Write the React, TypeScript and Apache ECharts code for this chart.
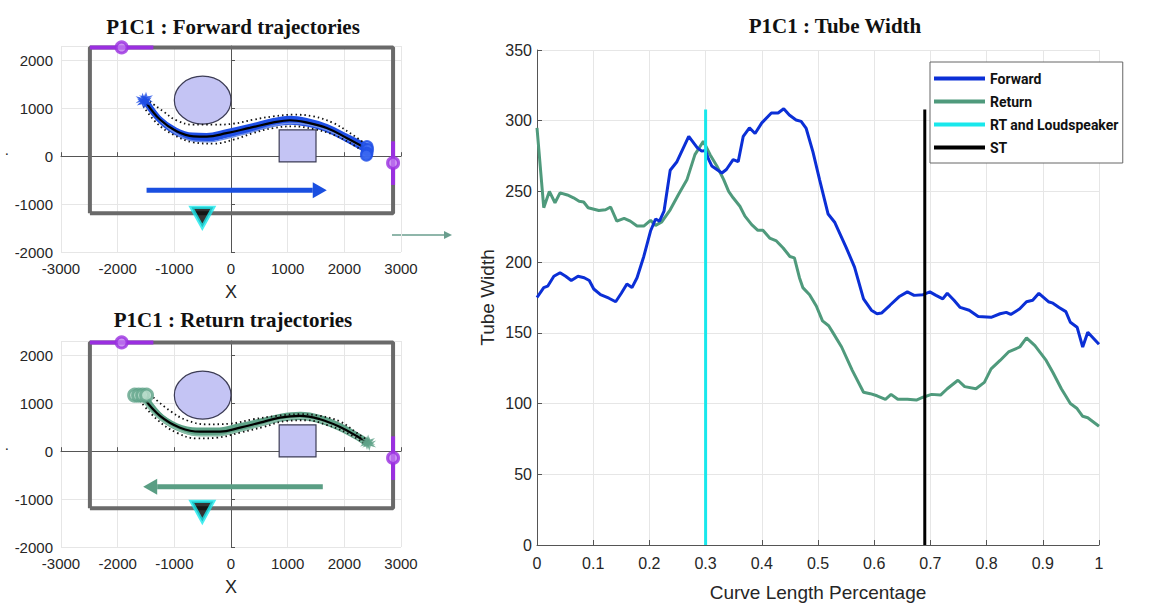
import React, { useEffect, useRef } from 'react';
import * as echarts from 'echarts';

// ---------- Right chart: tube width ----------
const tubeXTicks = [0, 0.1, 0.2, 0.3, 0.4, 0.5, 0.6, 0.7, 0.8, 0.9, 1];
const tubeYTicks = [0, 50, 100, 150, 200, 250, 300, 350];

const forwardWidth: number[][] = [
  [0, 175], [0.012, 182], [0.019, 183], [0.03, 190], [0.041, 192.5], [0.051, 190], [0.061, 187], [0.073, 190],
  [0.084, 189], [0.093, 187], [0.101, 181], [0.113, 177], [0.128, 174.5], [0.14, 172], [0.15, 178], [0.16, 184.5],
  [0.169, 182], [0.178, 189], [0.19, 204], [0.202, 222], [0.211, 230.5], [0.218, 229], [0.226, 236], [0.237, 265],
  [0.249, 271], [0.27, 289], [0.285, 281], [0.293, 278.5], [0.3, 279], [0.305, 273], [0.311, 268], [0.329, 263],
  [0.337, 265.5], [0.349, 272.5], [0.358, 271], [0.367, 289], [0.378, 295], [0.388, 291], [0.4, 298.5],
  [0.417, 305.5], [0.429, 305.5], [0.439, 308.5], [0.449, 304], [0.461, 300.5], [0.47, 299.5], [0.479, 294.5],
  [0.491, 278], [0.503, 258], [0.518, 234], [0.53, 228], [0.55, 210.5], [0.565, 196.5], [0.581, 174],
  [0.595, 166], [0.605, 163.5], [0.613, 164], [0.628, 169.5], [0.644, 175.5], [0.659, 179], [0.671, 176.5],
  [0.687, 177], [0.699, 179], [0.71, 176.5], [0.722, 174], [0.73, 178], [0.742, 173], [0.753, 168], [0.769, 166],
  [0.785, 161.5], [0.808, 161], [0.824, 163.5], [0.835, 164.5], [0.843, 163], [0.859, 167], [0.871, 172],
  [0.882, 173], [0.893, 178], [0.91, 172], [0.918, 171], [0.929, 168], [0.941, 165], [0.949, 157.5], [0.961, 154],
  [0.971, 140], [0.98, 150.5], [1, 142],
];

const returnWidth: number[][] = [
  [0, 295], [0.012, 238.5], [0.022, 250], [0.032, 242], [0.041, 249], [0.054, 247.5], [0.065, 245.5], [0.075, 243],
  [0.083, 242.5], [0.091, 238.5], [0.11, 236.5], [0.122, 237], [0.131, 239], [0.142, 229], [0.155, 231],
  [0.166, 229], [0.178, 225.5], [0.19, 225.5], [0.202, 229.5], [0.211, 226], [0.222, 228.5], [0.237, 237],
  [0.252, 248], [0.267, 258.5], [0.281, 276], [0.296, 285.5], [0.308, 276], [0.32, 268], [0.332, 258.5],
  [0.341, 250], [0.349, 245.5], [0.361, 239.5], [0.37, 232.5], [0.382, 226.5], [0.393, 222.5], [0.402, 222.5],
  [0.414, 217], [0.426, 215], [0.438, 210], [0.45, 204], [0.458, 203], [0.467, 189], [0.473, 182], [0.485, 177],
  [0.497, 169], [0.508, 158.5], [0.519, 155], [0.526, 150.5], [0.542, 140], [0.561, 123.5], [0.581, 108],
  [0.593, 107], [0.605, 105.5], [0.62, 103], [0.63, 106.5], [0.642, 103], [0.659, 103], [0.675, 102.5],
  [0.687, 104.5], [0.702, 106.5], [0.718, 106], [0.73, 110.5], [0.749, 116.5], [0.761, 112], [0.781, 110.5],
  [0.796, 115], [0.808, 124.5], [0.824, 130.5], [0.839, 136.5], [0.859, 140], [0.871, 146.5], [0.886, 141],
  [0.906, 130.5], [0.918, 122], [0.933, 110.5], [0.949, 100], [0.961, 96.5], [0.971, 91], [0.98, 90], [1, 84],
];

const rtLine: number[][] = [[0.3, 0], [0.3, 308]];
const stLine: number[][] = [[0.69, 0], [0.69, 308]];
const legendNames = ['Forward', 'Return', 'RT and Loudspeaker', 'ST'];

// ---------- Left charts: room layout ----------
const roomWalls: number[][] = [[-2490, -1190], [-2490, 2270], [2860, 2270], [2860, -1190], [-2490, -1190]];
const purpleTop: number[][] = [[-2490, 2270], [-1370, 2270]];
const purpleRight: number[][] = [[2860, 310], [2860, -600]];
const purpleDots: number[][] = [[-1930, 2270], [2860, -140]];
const obstacleCircle: number[][] = [[-500, 1170, 500]];
const obstacleSquare: number[][] = [[850, -120, 1500, 550]];
const speakerTop: number[][] = [[-506, -1277]];
const speakerBottom: number[][] = [[-506, -1257]];

// forward trajectories
const forwardMean: number[][] = [
  [-1490, 1110], [-1250, 760], [-960, 520], [-660, 415], [-430, 410], [-80, 480], [330, 590], [750, 705],
  [1040, 750], [1330, 705], [1690, 590], [2040, 380], [2370, 170],
];
const forwardUpper: number[][] = [
  [-1430, 1140], [-1195, 935], [-960, 748], [-665, 657], [-312, 657], [41, 678], [394, 762], [747, 831],
  [1100, 866], [1453, 831], [1806, 692], [2100, 483], [2394, 240],
];
const forwardLower: number[][] = [
  [-1547, 1040], [-1312, 692], [-1018, 449], [-665, 289], [-312, 261], [41, 344], [394, 483], [747, 588],
  [1100, 623], [1453, 567], [1806, 449], [2100, 275], [2335, 100],
];
const forwardTraj1: number[][] = [
  [-1530, 1180], [-1280, 790], [-980, 540], [-680, 430], [-430, 420], [-80, 500], [330, 610], [750, 735],
  [1040, 780], [1330, 735], [1690, 610], [2050, 400], [2400, 200],
];
const forwardTraj2: number[][] = [
  [-1470, 1100], [-1230, 730], [-940, 480], [-640, 375], [-420, 370], [-70, 445], [340, 560], [760, 680],
  [1050, 720], [1340, 680], [1700, 560], [2050, 350], [2400, 120],
];
const forwardTraj3: number[][] = [
  [-1450, 1050], [-1200, 680], [-900, 420], [-620, 310], [-400, 300], [-50, 380], [350, 500], [760, 640],
  [1050, 690], [1340, 660], [1700, 540], [2050, 340], [2420, 130],
];
const forwardStart: number[][] = [[-1560, 1180], [-1520, 1150], [-1500, 1200], [-1540, 1130]];
const forwardEnd: number[][] = [[2400, 200], [2410, 140], [2400, 60], [2390, 20]];
const forwardArrow: number[][] = [[-1490, 1690, -710]];

// return trajectories
const returnMean: number[][] = [
  [-1547, 1123], [-1253, 737], [-900, 491], [-547, 407], [-194, 407], [159, 491], [512, 596], [865, 702],
  [1218, 737], [1571, 667], [1924, 505], [2218, 316], [2394, 175],
];
const returnUpper: number[][] = [
  [-1370, 1123], [-1076, 842], [-782, 646], [-429, 561], [-18, 575], [394, 667], [806, 737], [1218, 772],
  [1571, 737], [1924, 618], [2218, 386], [2424, 211],
];
const returnLower: number[][] = [
  [-1606, 1053], [-1312, 667], [-959, 386], [-606, 267], [-253, 281], [159, 386], [571, 505], [982, 632],
  [1335, 646], [1688, 547], [2041, 386], [2335, 175],
];
const returnTraj1: number[][] = [
  [-1560, 1170], [-1300, 780], [-960, 520], [-600, 430], [-250, 430], [150, 520], [520, 620], [880, 720],
  [1220, 760], [1580, 690], [1930, 520], [2220, 330], [2420, 190],
];
const returnTraj2: number[][] = [
  [-1500, 1100], [-1220, 700], [-880, 460], [-540, 380], [-200, 385], [170, 470], [530, 580], [880, 680],
  [1220, 715], [1580, 640], [1930, 480], [2230, 290], [2400, 150],
];
const returnTraj3: number[][] = [
  [-1600, 1130], [-1330, 740], [-980, 470], [-620, 330], [-270, 320], [130, 410], [510, 530], [870, 650],
  [1210, 690], [1570, 620], [1920, 460], [2220, 270], [2410, 130],
];
const returnStart: number[][] = [[-1700, 1170], [-1630, 1170], [-1560, 1170], [-1490, 1170]];
const returnEnd: number[][] = [[2420, 200], [2440, 150], [2400, 170]];
const returnArrow: number[][] = [[1620, -1550, -740]];

const BLUE = '#0b2fd6';
const BLUE_T = '#1f4fe6';
const BLUE_LIGHT = '#6f8fe8';
const GREEN = '#4f9a7c';
const GREEN_T = '#5fa388';
const CYAN = '#19e8ec';
const PURPLE = '#9a2fe0';
const WALL = '#6a6a6a';
const AXIS = '#555555';
const TEXT = '#262626';
const GRIDC = '#e6e6e6';
const STAR = 'path://M0,-10L2,-3L9,-5L4,0L9,5L2,3L0,10L-2,3L-9,5L-4,0L-9,-5L-2,-3Z';

function leftAxes(gridIndex: number) {
  const x = {
    type: 'value', gridIndex, min: -3000, max: 3000, interval: 1000,
    name: 'X', nameLocation: 'middle', nameGap: 31,
    nameTextStyle: { fontFamily: 'Liberation Sans', fontSize: 18, color: TEXT },
    axisLine: { show: true, lineStyle: { color: AXIS, width: 1 } },
    axisTick: { show: true, inside: true, length: 4, lineStyle: { color: AXIS } },
    axisLabel: { fontFamily: 'Liberation Sans', fontSize: 15, color: TEXT, margin: 9, formatter: (v: number) => String(v) },
    splitLine: { show: true, lineStyle: { color: GRIDC, width: 1 } },
  };
  const y = {
    type: 'value', gridIndex, min: -2000, max: 2300, interval: 1000,
    name: '.', nameLocation: 'middle', nameGap: 52, nameRotate: 0,
    nameTextStyle: { fontFamily: 'Liberation Sans', fontSize: 15, color: TEXT },
    axisLine: { show: true, lineStyle: { color: AXIS, width: 1 } },
    axisTick: { show: true, inside: true, length: 4, lineStyle: { color: AXIS } },
    axisLabel: {
      fontFamily: 'Liberation Sans', fontSize: 15, color: TEXT, margin: 8,
      formatter: (v: number) => (v % 1000 === 0 ? String(v) : ''),
    },
    splitLine: { show: true, lineStyle: { color: GRIDC, width: 1 } },
  };
  return { x, y };
}

function ellipseItem(params: any, api: any) {
  const c = api.coord([api.value(0), api.value(1)]);
  const s = api.size([api.value(2), api.value(2)]);
  return {
    type: 'ellipse',
    shape: { cx: c[0], cy: c[1], rx: s[0], ry: s[1] },
    style: { fill: '#c4c4f4', stroke: '#3c3c55', lineWidth: 1.2 },
  };
}

function squareItem(params: any, api: any) {
  const p1 = api.coord([api.value(0), api.value(3)]);
  const p2 = api.coord([api.value(2), api.value(1)]);
  return {
    type: 'rect',
    shape: { x: p1[0], y: p1[1], width: p2[0] - p1[0], height: p2[1] - p1[1] },
    style: { fill: '#c4c4f4', stroke: '#3c3c55', lineWidth: 1.2 },
  };
}

function arrowItemFactory(color: string) {
  return (params: any, api: any) => {
    const a = api.coord([api.value(0), api.value(2)]);
    const b = api.coord([api.value(1), api.value(2)]);
    const dir = b[0] > a[0] ? 1 : -1;
    const hl = 14;
    const hw = 8;
    const base = b[0] - dir * hl;
    return {
      type: 'group',
      children: [
        { type: 'line', shape: { x1: a[0], y1: a[1], x2: base, y2: b[1] }, style: { stroke: color, lineWidth: 5 } },
        { type: 'polygon', shape: { points: [[b[0], b[1]], [base, b[1] - hw], [base, b[1] + hw]] }, style: { fill: color } },
      ],
    };
  };
}

function roomSeries(idx: number, speaker: number[][]) {
  return [
    { name: 'walls' + idx, type: 'line', xAxisIndex: idx, yAxisIndex: idx, data: roomWalls, symbol: 'none', lineStyle: { color: WALL, width: 4 }, z: 2 },
    { name: 'doorTop' + idx, type: 'line', xAxisIndex: idx, yAxisIndex: idx, data: purpleTop, symbol: 'none', lineStyle: { color: PURPLE, width: 4 }, z: 3 },
    { name: 'doorRight' + idx, type: 'line', xAxisIndex: idx, yAxisIndex: idx, data: purpleRight, symbol: 'none', lineStyle: { color: PURPLE, width: 4 }, z: 3 },
    { name: 'doorDots' + idx, type: 'scatter', xAxisIndex: idx, yAxisIndex: idx, data: purpleDots, symbol: 'circle', symbolSize: 11, itemStyle: { color: '#c07af0', borderColor: PURPLE, borderWidth: 3 }, z: 4 },
    { name: 'circleObs' + idx, type: 'custom', xAxisIndex: idx, yAxisIndex: idx, data: obstacleCircle, renderItem: ellipseItem, z: 1 },
    { name: 'squareObs' + idx, type: 'custom', xAxisIndex: idx, yAxisIndex: idx, data: obstacleSquare, renderItem: squareItem, z: 1 },
    { name: 'speaker' + idx, type: 'scatter', xAxisIndex: idx, yAxisIndex: idx, data: speaker, symbol: 'triangle', symbolRotate: 180, symbolSize: [22, 20], itemStyle: { color: '#000', borderColor: CYAN, borderWidth: 3.5 }, z: 6 },
  ];
}

function trajSeries(idx: number, mean: number[][], upper: number[][], lower: number[][], trajs: number[][][], main: string, light: string) {
  const out: any[] = [];
  trajs.forEach((t, i) => {
    out.push({
      name: 'traj' + idx + '_' + i, type: 'line', xAxisIndex: idx, yAxisIndex: idx, data: t, symbol: 'none', smooth: 0.4,
      lineStyle: { color: i === 2 ? light : main, width: i === 2 ? 1.5 : 6 }, z: 3,
    });
  });
  out.push({ name: 'upper' + idx, type: 'line', xAxisIndex: idx, yAxisIndex: idx, data: upper, symbol: 'none', smooth: 0.4, lineStyle: { color: '#111', width: 1.8, type: [1.5, 3] }, z: 4 });
  out.push({ name: 'lower' + idx, type: 'line', xAxisIndex: idx, yAxisIndex: idx, data: lower, symbol: 'none', smooth: 0.4, lineStyle: { color: '#111', width: 1.8, type: [1.5, 3] }, z: 4 });
  out.push({ name: 'mean' + idx, type: 'line', xAxisIndex: idx, yAxisIndex: idx, data: mean, symbol: 'none', smooth: 0.4, lineStyle: { color: '#000', width: 2.2 }, z: 5 });
  return out;
}

export default function App() {
  const ref = useRef<HTMLDivElement>(null);
  useEffect(() => {
    document.body.style.margin = '0';
    if (!ref.current) return;
    const chart = echarts.init(ref.current, undefined, { renderer: 'svg' });
    const a0 = leftAxes(0);
    const a1 = leftAxes(1);
    const titleFont = 'bold 21px "Liberation Serif", "DejaVu Serif", serif';
    const option: any = {
      animation: false,
      backgroundColor: '#ffffff',
      grid: [
        { left: 61, top: 46, width: 340, height: 206 },
        { left: 61, top: 341, width: 340, height: 206 },
        { left: 537, top: 50, width: 562, height: 495 },
      ],
      xAxis: [
        a0.x,
        a1.x,
        {
          type: 'value', gridIndex: 2, min: 0, max: 1, interval: 0.1,
          name: 'Curve Length Percentage', nameLocation: 'middle', nameGap: 38,
          nameTextStyle: { fontFamily: 'Liberation Sans', fontSize: 19, color: TEXT },
          axisLine: { show: true, lineStyle: { color: AXIS, width: 1 } },
          axisTick: { show: true, inside: true, length: 5, lineStyle: { color: AXIS } },
          axisLabel: { fontFamily: 'Liberation Sans', fontSize: 16, color: TEXT, margin: 10, formatter: (v: number) => String(Math.round(v * 10) / 10) },
          splitLine: { show: true, lineStyle: { color: GRIDC, width: 1 } },
        },
      ],
      yAxis: [
        a0.y,
        a1.y,
        {
          type: 'value', gridIndex: 2, min: 0, max: 350, interval: 50,
          name: 'Tube Width', nameLocation: 'middle', nameGap: 40,
          nameTextStyle: { fontFamily: 'Liberation Sans', fontSize: 19, color: TEXT },
          axisLine: { show: true, lineStyle: { color: AXIS, width: 1 } },
          axisTick: { show: true, inside: true, length: 5, lineStyle: { color: AXIS } },
          axisLabel: { fontFamily: 'Liberation Sans', fontSize: 16, color: TEXT, margin: 5 },
          splitLine: { show: true, lineStyle: { color: GRIDC, width: 1 } },
        },
      ],
      legend: {
        data: legendNames,
        orient: 'vertical',
        left: 930, top: 62,
        padding: [8, 4, 7, 4],
        itemGap: 6,
        itemWidth: 51, itemHeight: 4,
        icon: 'rect',
        backgroundColor: '#ffffff',
        borderColor: '#666666', borderWidth: 1,
        textStyle: { fontFamily: 'Roboto, "Liberation Sans", sans-serif', fontWeight: 'bold', fontSize: 14, color: '#111', lineHeight: 17 },
      },
      graphic: [
        { type: 'text', x: 233, y: 27, style: { text: 'P1C1 : Forward trajectories', font: titleFont, fill: '#111', textAlign: 'center', textVerticalAlign: 'middle' } },
        { type: 'text', x: 233, y: 320, style: { text: 'P1C1 : Return trajectories', font: titleFont, fill: '#111', textAlign: 'center', textVerticalAlign: 'middle' } },
        { type: 'text', x: 835, y: 26, style: { text: 'P1C1 : Tube Width', font: titleFont, fill: '#111', textAlign: 'center', textVerticalAlign: 'middle' } },
        { type: 'line', shape: { x1: 392, y1: 235, x2: 446, y2: 235 }, style: { stroke: '#6a9e8e', lineWidth: 1.5 } },
        { type: 'polygon', shape: { points: [[452, 235], [444, 231], [444, 239]] }, style: { fill: '#6a9e8e' } },
      ],
      series: [
        ...roomSeries(0, speakerTop),
        ...trajSeries(0, forwardMean, forwardUpper, forwardLower, [forwardTraj1, forwardTraj2, forwardTraj3], BLUE_T, BLUE_LIGHT),
        { name: 'fStart', type: 'scatter', xAxisIndex: 0, yAxisIndex: 0, data: forwardStart, symbol: STAR, symbolSize: 14, itemStyle: { color: BLUE_T }, z: 6 },
        { name: 'fEnd', type: 'scatter', xAxisIndex: 0, yAxisIndex: 0, data: forwardEnd, symbol: 'circle', symbolSize: 11, itemStyle: { color: '#3a66f0', borderColor: BLUE_T, borderWidth: 2 }, z: 6 },
        { name: 'fArrow', type: 'custom', xAxisIndex: 0, yAxisIndex: 0, data: forwardArrow, renderItem: arrowItemFactory('#1a4fe0'), z: 5 },

        ...roomSeries(1, speakerBottom),
        ...trajSeries(1, returnMean, returnUpper, returnLower, [returnTraj1, returnTraj2, returnTraj3], GREEN_T, '#8cc0aa'),
        { name: 'rStart', type: 'scatter', xAxisIndex: 1, yAxisIndex: 1, data: returnStart, symbol: 'circle', symbolSize: 12, itemStyle: { color: '#b8dccb', borderColor: GREEN_T, borderWidth: 3 }, z: 6 },
        { name: 'rEnd', type: 'scatter', xAxisIndex: 1, yAxisIndex: 1, data: returnEnd, symbol: STAR, symbolSize: 14, itemStyle: { color: GREEN_T }, z: 6 },
        { name: 'rArrow', type: 'custom', xAxisIndex: 1, yAxisIndex: 1, data: returnArrow, renderItem: arrowItemFactory('#5a9e84'), z: 5 },

        { name: 'Forward', type: 'line', xAxisIndex: 2, yAxisIndex: 2, data: forwardWidth, symbol: 'none', lineStyle: { color: BLUE, width: 3 }, itemStyle: { color: BLUE }, z: 5 },
        { name: 'Return', type: 'line', xAxisIndex: 2, yAxisIndex: 2, data: returnWidth, symbol: 'none', lineStyle: { color: GREEN, width: 3 }, itemStyle: { color: GREEN }, z: 4 },
        { name: 'RT and Loudspeaker', type: 'line', xAxisIndex: 2, yAxisIndex: 2, data: rtLine, symbol: 'none', lineStyle: { color: CYAN, width: 3 }, itemStyle: { color: CYAN }, z: 6 },
        { name: 'ST', type: 'line', xAxisIndex: 2, yAxisIndex: 2, data: stLine, symbol: 'none', lineStyle: { color: '#000', width: 3 }, itemStyle: { color: '#000' }, z: 6 },
      ],
    };
    chart.setOption(option);
    return () => chart.dispose();
  }, []);
  return <div ref={ref} style={{ width: 1170, height: 614 }} />;
}
